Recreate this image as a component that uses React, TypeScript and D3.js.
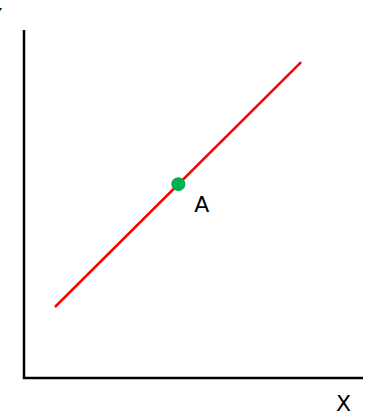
import React from "react";
import * as d3 from "d3";

const lineX = [0.91, 8.15];
const lineY = [2.04, 9.08];
const pointX = [4.54];
const pointY = [5.57];
const pointLabels = ["A"];
const axisLabels = ["X", "Y"];

export default function App() {
  const W = 368, H = 414;
  const x = d3.scaleLinear().domain([0, 10]).range([24, 364]);
  const y = d3.scaleLinear().domain([0, 10]).range([378, 30]);
  const lineData: [number, number][] = lineX.map((v, i) => [v, lineY[i]]);
  const lineGen = d3.line<[number, number]>().x(d => x(d[0])).y(d => y(d[1]));
  const font = "DejaVu Sans, sans-serif";
  return (
    <svg width={W} height={H} style={{ position: "absolute", left: 0, top: 0, background: "#fff" }}>
      <path
        d={`M${x(0)},${y(10)}V${y(0)}H${x(10) - 1}`}
        fill="none"
        stroke="#000"
        strokeWidth={2.5}
      />
      <path d={lineGen(lineData) || ""} fill="none" stroke="#ff0000" strokeWidth={2.5} />
      {pointX.map((px, i) => (
        <g key={i}>
          <circle cx={x(px)} cy={y(pointY[i])} r={7} fill="#00b050" />
          <text x={x(px) + 16} y={y(pointY[i]) + 28} fontFamily={font} fontSize={22} fill="#000">
            {pointLabels[i]}
          </text>
        </g>
      ))}
      <text x={343.5} y={411} textAnchor="middle" fontFamily={font} fontSize={22} fill="#000">
        {axisLabels[0]}
      </text>
      <text x={2} y={24} textAnchor="end" fontFamily={font} fontSize={22} fill="#000">
        {axisLabels[1]}
      </text>
    </svg>
  );
}
